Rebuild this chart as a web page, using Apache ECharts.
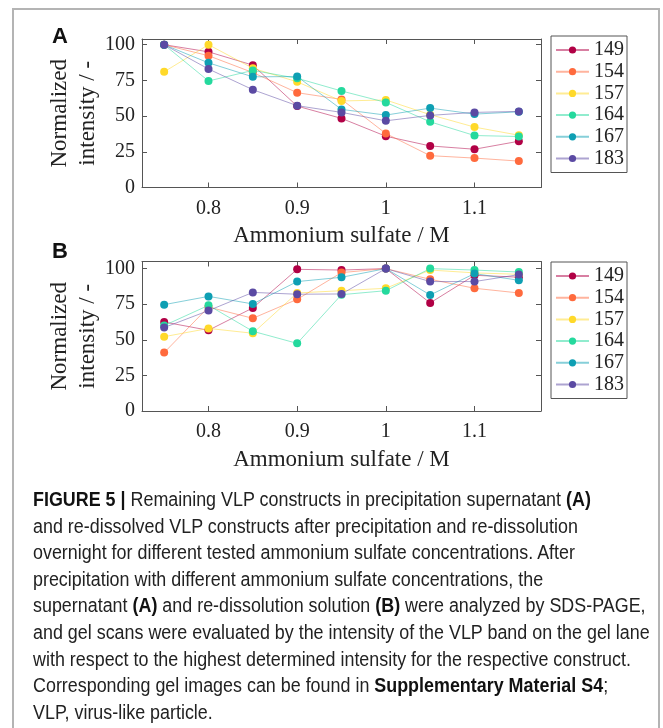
<!DOCTYPE html>
<html>
<head>
<meta charset="utf-8">
<script src="https://cdn.jsdelivr.net/npm/echarts@6/dist/echarts.min.js"></script>
<style>
  body { margin: 0; background: #fff; }
  #wrap { position: relative; width: 663px; height: 728px; overflow: hidden; }
  #frame { position: absolute; left: 12px; top: 8px; width: 648px; height: 740px; border: 2px solid #b4b4b4; box-sizing: border-box; }
  #chart { position: absolute; left: 0; top: 0; width: 663px; height: 728px; }
  #caption { position: absolute; left: 33px; top: 486px; width: 700px; font-family: "Liberation Sans", Arial, sans-serif; font-size: 20px; line-height: 26.6px; color: #222; white-space: nowrap; transform: scaleX(0.895); transform-origin: 0 0; }
  #caption b { color: #111; }
</style>
</head>
<body>
<div id="wrap">
  <div id="frame"></div>
  <div id="chart"></div>
  <div id="caption">
    <b>FIGURE 5 |</b> Remaining VLP constructs in precipitation supernatant <b>(A)</b><br>
    and re-dissolved VLP constructs after precipitation and re-dissolution<br>
    overnight for different tested ammonium sulfate concentrations. After<br>
    precipitation with different ammonium sulfate concentrations, the<br>
    supernatant <b>(A)</b> and re-dissolution solution <b>(B)</b> were analyzed by SDS-PAGE,<br>
    and gel scans were evaluated by the intensity of the VLP band on the gel lane<br>
    with respect to the highest determined intensity for the respective construct.<br>
    Corresponding gel images can be found in <b>Supplementary Material S4</b>;<br>
    VLP, virus-like particle.
  </div>
</div>
<script>
// 硫酸铵浓度 / M
var conc = [0.75, 0.8, 0.85, 0.9, 0.95, 1.0, 1.05, 1.1, 1.15];
var xTicks = [0.8, 0.9, 1, 1.1];
var names = ['149', '154', '157', '164', '167', '183'];
var colors = ['#b10045', '#ff6a3d', '#ffd92a', '#24d99d', '#0e9fb3', '#5b4aa3'];

// A: 上清液
var a149 = [100, 95, 85.7, 57, 48.4, 35.9, 29.1, 26.8, 32.4];
var a154 = [100, 92.3, 80.5, 66.4, 61.7, 37.8, 22.3, 20.6, 18.5];
var a157 = [81, 100, 83.5, 74, 60.6, 61.3, 51, 42.3, 36.6];
var a164 = [100, 74.6, 82, 76.5, 67.6, 59.6, 46, 36.4, 35.7];
var a167 = [100, 87.3, 77.5, 77.7, 54.7, 50.7, 55.6, 51.4, 53];
var a183 = [100, 83, 68.5, 57.3, 52.6, 46.7, 50.5, 52.6, 53.3];

// B: 重溶液
var b149 = [62.5, 56.7, 72.4, 99.5, 99, 100, 75.9, 95.3, 94];
var b154 = [41, 73, 65.1, 78.4, 97.2, 100, 92.5, 86.2, 82.9];
var b157 = [52.2, 58, 54.6, 82.9, 84.5, 86.2, 99, 97, 96];
var b164 = [60, 74.2, 56, 47.5, 81.7, 84.5, 100, 99, 97.6];
var b167 = [74.7, 80.5, 75.2, 90.9, 93.9, 100, 81.5, 96.5, 91.8];
var b183 = [58.6, 70.5, 83.3, 82, 82.2, 100, 90.9, 90.9, 95.8];

var dataA = [a149, a154, a157, a164, a167, a183];
var dataB = [b149, b154, b157, b164, b167, b183];

var serif = 'Liberation Serif';
var axisColor = '#555';

function pairs(ys) {
    var out = [];
    for (var i = 0; i < conc.length; i++) {
        out.push([conc[i], ys[i]]);
    }
    return out;
}

function xAxes(gi) {
    return [{
        gridIndex: gi, type: 'value', min: 0.725, max: 1.175, position: 'bottom',
        name: 'Ammonium sulfate / M', nameLocation: 'middle', nameGap: 37,
        nameTextStyle: { fontFamily: serif, fontSize: 23, color: '#222' },
        splitLine: { show: false },
        axisLine: { onZero: false, lineStyle: { color: axisColor } },
        axisTick: { inside: true, length: 5, customValues: xTicks, lineStyle: { color: axisColor } },
        axisLabel: { customValues: xTicks, margin: 11, fontFamily: serif, fontSize: 20, color: '#222' }
    }, {
        gridIndex: gi, type: 'value', min: 0.725, max: 1.175, position: 'top',
        splitLine: { show: false },
        axisLine: { onZero: false, lineStyle: { color: axisColor } },
        axisTick: { inside: true, length: 5, customValues: xTicks, lineStyle: { color: axisColor } },
        axisLabel: { show: false }
    }];
}

function yAxes(gi, max) {
    return [{
        gridIndex: gi, type: 'value', min: 0, max: max, interval: 25, position: 'left',
        name: 'Normalized\nintensity / -', nameLocation: 'middle', nameGap: 40, nameRotate: 90,
        nameMoveOverlap: false,
        nameTextStyle: { fontFamily: serif, fontSize: 23, lineHeight: 28, color: '#222' },
        splitLine: { show: false },
        axisLine: { show: true, onZero: false, lineStyle: { color: axisColor } },
        axisTick: { show: true, inside: true, length: 5, lineStyle: { color: axisColor } },
        axisLabel: { margin: 7, fontFamily: serif, fontSize: 20, color: '#222',
            formatter: function (v) { return v % 25 === 0 ? String(v) : ''; } }
    }, {
        gridIndex: gi, type: 'value', min: 0, max: max, interval: 25, position: 'right',
        splitLine: { show: false },
        axisLine: { show: true, onZero: false, lineStyle: { color: axisColor } },
        axisTick: { show: true, inside: true, length: 5, lineStyle: { color: axisColor } },
        axisLabel: { show: false }
    }];
}

var series = [];
function addSeries(data, xi, yi) {
    for (var i = 0; i < names.length; i++) {
        series.push({
            name: names[i], type: 'line', xAxisIndex: xi, yAxisIndex: yi,
            data: pairs(data[i]),
            symbol: 'circle', symbolSize: 8,
            itemStyle: { color: colors[i] },
            lineStyle: { width: 1, color: colors[i], opacity: 0.5 },
            emphasis: { disabled: true },
            animation: false
        });
    }
}
addSeries(dataA, 0, 0);
addSeries(dataB, 2, 2);

function legendAt(top) {
    return {
        orient: 'vertical', left: 551, top: top,
        data: names,
        borderColor: axisColor, borderWidth: 1,
        padding: [4, 3, 4, 4], itemGap: 1.7,
        itemWidth: 33, itemHeight: 9,
        textStyle: { fontFamily: serif, fontSize: 20, lineHeight: 20, color: '#222' },
        selectedMode: false
    };
}

var myChart = echarts.init(document.getElementById('chart'));
var option = {
    backgroundColor: 'transparent',
    animation: false,
    grid: [
        { left: 142, top: 39, width: 399, height: 148.5 },
        { left: 142, top: 261.5, width: 399, height: 149.5 }
    ],
    xAxis: xAxes(0).concat(xAxes(1)),
    yAxis: yAxes(0, 104).concat(yAxes(1, 105)),
    legend: [legendAt(36), legendAt(262)],
    graphic: [
        { type: 'text', left: 52, top: 26, style: { text: 'A', font: 'bold 22px "Liberation Sans"', fill: '#111' } },
        { type: 'text', left: 52, top: 241, style: { text: 'B', font: 'bold 22px "Liberation Sans"', fill: '#111' } }
    ],
    series: series
};
myChart.setOption(option);
</script>
</body>
</html>
